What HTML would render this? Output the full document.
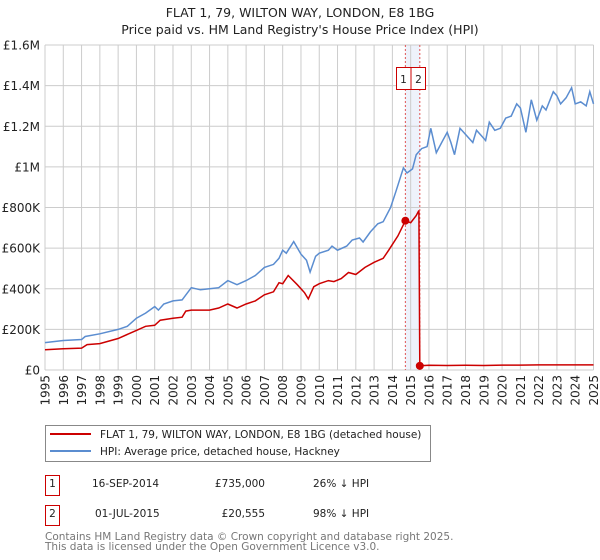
<!DOCTYPE html>
<html><head><meta charset="utf-8"><style>
body{margin:0;background:#fff;font-family:"DejaVu Sans","Liberation Sans",sans-serif;}
#wrap{position:relative;width:600px;height:560px;overflow:hidden}
</style></head><body>
<div id="wrap">
<svg id="svg" width="600" height="560" xmlns="http://www.w3.org/2000/svg" style="position:absolute;left:0;top:0" font-family="DejaVu Sans, Liberation Sans, sans-serif">
<text x="300" y="17" text-anchor="middle" font-size="12.5" fill="#222">FLAT 1, 79, WILTON WAY, LONDON, E8 1BG</text>
<text x="300" y="34" text-anchor="middle" font-size="12.5" fill="#222">Price paid vs. HM Land Registry's House Price Index (HPI)</text>
<g id="grid"></g><g id="axes"></g><g id="series"></g>
<g>
<rect x="45.5" y="425.5" width="385" height="36" fill="#fff" stroke="#888"/>
<line x1="50" y1="434" x2="91" y2="434" stroke="#cc0000" stroke-width="2"/>
<text x="100" y="438" font-size="10.5" fill="#222">FLAT 1, 79, WILTON WAY, LONDON, E8 1BG (detached house)</text>
<line x1="50" y1="451" x2="91" y2="451" stroke="#5b8dd0" stroke-width="2"/>
<text x="100" y="455" font-size="10.5" fill="#222">HPI: Average price, detached house, Hackney</text>
</g>
<g font-size="10.5" fill="#222">
<rect x="45.5" y="475.5" width="14" height="20" fill="none" stroke="#cc0000"/>
<text x="52.5" y="487" text-anchor="middle">1</text>
<text x="92" y="487">16-SEP-2014</text>
<text x="265" y="487" text-anchor="end">£735,000</text>
<text x="313" y="487">26% ↓ HPI</text>
<rect x="45.5" y="505.5" width="14" height="20" fill="none" stroke="#cc0000"/>
<text x="52.5" y="517" text-anchor="middle">2</text>
<text x="95" y="517">01-JUL-2015</text>
<text x="265" y="517" text-anchor="end">£20,555</text>
<text x="313" y="517">98% ↓ HPI</text>
</g>
<text x="45" y="540" font-size="10.5" fill="#777">Contains HM Land Registry data © Crown copyright and database right 2025.</text>
<text x="45" y="550" font-size="10.5" fill="#777">This data is licensed under the Open Government Licence v3.0.</text>
</svg>
</div>
<script>
const yTicks=[0,200000,400000,600000,800000,1000000,1200000,1400000,1600000];
const yTickLabels=["£0","£200K","£400K","£600K","£800K","£1M","£1.2M","£1.4M","£1.6M"];
const xYears=[1995,1996,1997,1998,1999,2000,2001,2002,2003,2004,2005,2006,2007,2008,2009,2010,2011,2012,2013,2014,2015,2016,2017,2018,2019,2020,2021,2022,2023,2024,2025];
const hpiT=[1995,1996,1997,1997.2,1998,1999,1999.5,2000,2000.5,2001,2001.2,2001.5,2002,2002.5,2003,2003.5,2004,2004.5,2005,2005.5,2006,2006.5,2007,2007.5,2007.8,2008,2008.2,2008.6,2009,2009.3,2009.5,2009.8,2010,2010.5,2010.7,2011,2011.5,2011.8,2012.2,2012.4,2012.8,2013.2,2013.5,2013.9,2014.2,2014.6,2014.8,2015.1,2015.3,2015.6,2015.9,2016.1,2016.4,2016.7,2017,2017.2,2017.4,2017.7,2018.1,2018.4,2018.6,2018.9,2019.1,2019.3,2019.6,2019.9,2020.2,2020.5,2020.8,2021,2021.3,2021.6,2021.9,2022.2,2022.4,2022.8,2023,2023.2,2023.5,2023.8,2024,2024.3,2024.6,2024.8,2025];
const hpiV=[135000,145000,150000,165000,178000,200000,215000,255000,280000,312000,295000,325000,340000,345000,405000,395000,400000,405000,440000,420000,440000,465000,505000,520000,550000,590000,575000,632000,570000,540000,482000,560000,575000,590000,610000,590000,610000,640000,650000,630000,680000,720000,730000,800000,880000,995000,970000,990000,1060000,1090000,1100000,1190000,1070000,1120000,1170000,1120000,1060000,1190000,1150000,1120000,1180000,1150000,1130000,1220000,1180000,1190000,1240000,1250000,1310000,1290000,1170000,1330000,1230000,1300000,1280000,1370000,1350000,1310000,1340000,1390000,1310000,1320000,1300000,1370000,1310000];
const priceT=[1995,1996,1997,1997.3,1998,1999,2000,2000.5,2001,2001.3,2002,2002.5,2002.7,2003,2004,2004.5,2005,2005.5,2006,2006.5,2007,2007.5,2007.8,2008,2008.3,2008.8,2009.2,2009.4,2009.7,2010,2010.5,2010.8,2011.2,2011.6,2012,2012.5,2013,2013.5,2013.8,2014.3,2014.71,2015,2015.3,2015.45,2015.5,2016,2017,2018,2019,2020,2021,2022,2023,2024,2025];
const priceV=[100000,105000,108000,125000,130000,155000,195000,215000,220000,245000,255000,260000,290000,295000,295000,305000,325000,305000,325000,340000,370000,385000,430000,425000,465000,420000,380000,350000,410000,425000,440000,435000,450000,480000,470000,505000,530000,550000,590000,660000,735000,725000,760000,785000,20555,23000,22000,23000,22000,24000,24000,25000,25000,25000,25000];
const saleT=[2014.71,2015.5];
const saleV=[735000,20555];
const saleLabels=["1","2"];

const NS="http://www.w3.org/2000/svg";
const L=45,R=593.5,T=45,B=370;
const xs=t=>L+(t-1995)/30*(R-L);
const ys=v=>B-v/1600000*(B-T);
function mk(tag,attrs,parent){const e=document.createElementNS(NS,tag);for(const k in attrs)e.setAttribute(k,attrs[k]);parent.appendChild(e);return e;}
const grid=document.getElementById('grid'),axes=document.getElementById('axes'),series=document.getElementById('series');
const band=mk('rect',{x:xs(saleT[0]),y:T,width:xs(saleT[1])-xs(saleT[0]),height:B-T,fill:'#eef2fb'},grid);


yTicks.forEach((v,i)=>{
 const l=mk('line',{x1:L,x2:R,y1:ys(v),y2:ys(v),stroke:'#ccc','stroke-width':1},grid);
 
 
 const t=mk('text',{x:40,y:ys(v)+4.5,'text-anchor':'end','font-size':12,fill:'#222'},axes);
 t.textContent=yTickLabels[i];
 
 
});
xYears.forEach(y=>{
 const l=mk('line',{x1:xs(y),x2:xs(y),y1:T,y2:B,stroke:'#ccc','stroke-width':1},grid);
 
 
 const t=mk('text',{x:0,y:0,'text-anchor':'end','font-size':12,fill:'#222',transform:`translate(${xs(y)+4.5},375) rotate(-90)`},axes);
 t.textContent=y;
 
 
});
saleT.forEach((t,i)=>{
 const l=mk('line',{x1:xs(t),x2:xs(t),y1:T,y2:B,stroke:'#e05555','stroke-width':1,'stroke-dasharray':'2,2'},grid);
 
 
 const r=mk('rect',{x:(i==0?396.5:411),y:67.5,width:14.5,height:22,fill:'#fff',stroke:'#cc0000'},axes);
 
 
 const tx=mk('text',{x:(i==0?403.5:418.5),y:83,'text-anchor':'middle','font-size':10.5,fill:'#222'},axes);
 tx.textContent=saleLabels[i];
 
 
});
const path=(T_,V_)=>T_.map((t,i)=>(i?'L':'M')+xs(t).toFixed(1)+','+ys(V_[i]).toFixed(1)).join('');
const hp=mk('path',{d:path(hpiT,hpiV),fill:'none',stroke:'#5b8dd0','stroke-width':1.5},series);


const pp=mk('path',{d:path(priceT,priceV),fill:'none',stroke:'#cc0000','stroke-width':1.5},series);


saleT.forEach((t,i)=>{
 const c=mk('circle',{cx:xs(t),cy:ys(saleV[i]),r:4,fill:'#cc0000'},series);
 
 
});
</script>
</body></html>
